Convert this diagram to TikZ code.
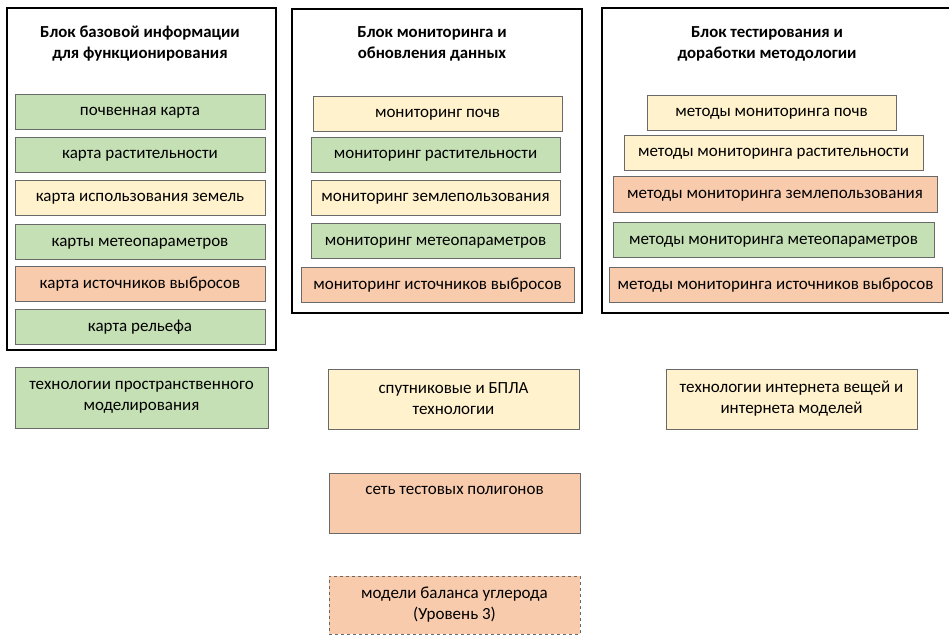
\documentclass[tikz,border=0pt]{standalone}
\usepackage{fontspec}
\setmainfont{Carlito}
\definecolor{cgreen}{RGB}{197,224,180}
\definecolor{cyellow}{RGB}{255,242,204}
\definecolor{corange}{RGB}{248,203,173}
\definecolor{cedge}{RGB}{105,105,105}
\begin{document}
\begin{tikzpicture}[x=1pt,y=-1pt,
  bigbox/.style={draw=black,line width=1.3pt,rectangle,inner sep=0pt},
  title/.style={font=\fontsize{16.8}{21}\selectfont\bfseries,align=center,inner sep=0pt},
  item/.style={draw=cedge,line width=0.8pt,rectangle,inner sep=0pt,minimum height=35,font=\fontsize{17}{21}\selectfont,align=center},
  single/.style={item,text height=10,text depth=1},
  tall/.style={item,minimum height=60},
  gitem/.style={single,fill=cgreen},
  yitem/.style={single,fill=cyellow},
  oitem/.style={single,fill=corange},
]
\useasboundingbox (0,0) rectangle (949,636);
% big boxes
\node[bigbox,minimum width=269,minimum height=342] (big1) at (141.5,179) {};
\node[bigbox,minimum width=290,minimum height=304] (big2) at (437,161) {};
\node[bigbox,minimum width=352,minimum height=305] (big3) at (778,160.5) {};
% titles
\node[title] (t1) at (140,43.5) {Блок базовой информации\\для функционирования};
\node[title] (t2) at (432,44) {Блок мониторинга и\\обновления данных};
\node[title] (t3) at (767,44) {Блок тестирования и\\доработки методологии};
% left items
\node[gitem,minimum width=250] (l1) at (140,111.5) {почвенная карта};
\node[gitem,minimum width=250] (l2) at (140,154.5) {карта растительности};
\node[yitem,minimum width=250] (l3) at (140,197.5) {карта использования земель};
\node[gitem,minimum width=250] (l4) at (140,241.5) {карты метеопараметров};
\node[oitem,minimum width=250] (l5) at (140,283.5) {карта источников выбросов};
\node[gitem,minimum width=250] (l6) at (140,326.5) {карта рельефа};
% middle items
\node[yitem,minimum width=249] (m1) at (437.5,113.5) {мониторинг почв};
\node[gitem,minimum width=249] (m2) at (435.5,154.5) {мониторинг растительности};
\node[yitem,minimum width=249] (m3) at (435.5,197.5) {мониторинг землепользования};
\node[gitem,minimum width=249] (m4) at (435.5,240.5) {мониторинг метеопараметров};
\node[oitem,minimum width=273] (m5) at (437.5,284.5) {мониторинг источников выбросов};
% right items
\node[yitem,minimum width=249] (r1) at (771.5,112.5) {методы мониторинга почв};
\node[yitem,minimum width=299] (r2) at (773.5,152.5) {методы мониторинга растительности};
\node[oitem,minimum width=324,minimum height=36] (r3) at (775,194) {методы мониторинга землепользования};
\node[gitem,minimum width=321] (r4) at (773.5,239.5) {методы мониторинга метеопараметров};
\node[oitem,minimum width=333] (r5) at (775.5,284.5) {методы мониторинга источников выбросов};
% bottom items
\node[tall,fill=cgreen,minimum width=253,minimum height=61] (b1) at (141.5,397.5) {технологии пространственного\\моделирования};
\node[tall,fill=cyellow,minimum width=251] (b2) at (453.5,399) {спутниковые и БПЛА\\технологии};
\node[tall,fill=cyellow,minimum width=251] (b3) at (791.5,399) {технологии интернета вещей и\\интернета моделей};
\node[tall,fill=corange,minimum width=251,text depth=35,text height=17] (b4) at (454.5,503) {сеть тестовых полигонов};
\node[tall,fill=corange,dashed,minimum width=251,minimum height=58] (b5) at (454.5,605) {модели баланса углерода\\(Уровень 3)};
\end{tikzpicture}
\end{document}
